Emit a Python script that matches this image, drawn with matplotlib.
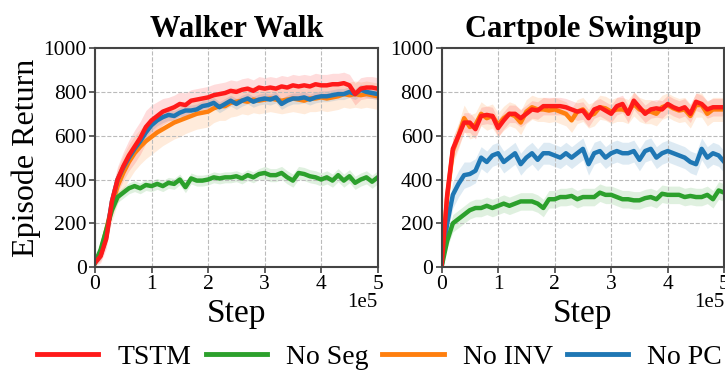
import numpy as np
import matplotlib
matplotlib.use("Agg")
import matplotlib.pyplot as plt

plt.rcParams['font.family'] = ['Liberation Serif', 'DejaVu Serif']

steps = np.arange(51) * 1e4

# Walker Walk
walker_tstm = [20, 50, 130, 300, 400, 460, 510, 550, 590, 640, 670, 690, 710, 720, 730, 745, 740, 760, 765, 770,
               775, 785, 790, 795, 805, 800, 810, 815, 805, 820, 815, 820, 815, 825, 820, 830, 825, 830, 825, 835,
               830, 830, 835, 835, 840, 830, 790, 815, 820, 820, 815]
walker_tstm_sd = [15, 30, 45, 55, 60, 65, 70, 75, 75, 75, 70, 65, 60, 55, 55, 55, 55, 50, 50, 50,
                  50, 50, 50, 50, 50, 50, 50, 50, 50, 50, 50, 50, 50, 50, 50, 50, 50, 50, 50, 50,
                  50, 50, 50, 50, 50, 50, 50, 50, 50, 50, 50]
walker_noseg = [20, 80, 170, 260, 320, 340, 360, 370, 360, 375, 370, 380, 370, 385, 380, 400, 365, 405, 395, 395,
                400, 410, 405, 410, 410, 415, 405, 420, 410, 425, 430, 420, 420, 430, 410, 395, 430, 425, 415, 410,
                400, 410, 395, 420, 395, 415, 385, 400, 410, 390, 410]
walker_noseg_sd = [10, 20, 25, 25, 25, 25, 25, 25, 25, 25, 25, 25, 25, 25, 25, 25, 25, 25, 25, 25,
                   25, 25, 25, 25, 25, 25, 25, 25, 25, 25, 30, 30, 30, 30, 30, 30, 30, 30, 30, 30,
                   30, 30, 30, 30, 30, 30, 30, 30, 30, 30, 30]
walker_noinv = [20, 70, 170, 280, 370, 430, 480, 520, 550, 575, 595, 615, 630, 645, 660, 670, 680, 690, 700, 705,
                710, 725, 735, 735, 750, 755, 760, 755, 765, 760, 765, 770, 765, 760, 765, 770, 765, 760, 770, 770,
                775, 770, 775, 780, 790, 785, 790, 785, 790, 785, 780]
walker_noinv_sd = [15, 40, 60, 70, 80, 80, 80, 80, 80, 80, 80, 80, 75, 75, 75, 75, 70, 70, 70, 70,
                   70, 65, 65, 65, 65, 65, 60, 60, 60, 60, 60, 60, 60, 60, 60, 60, 60, 60, 60, 60,
                   60, 60, 60, 60, 60, 60, 60, 60, 60, 60, 60]
walker_nopc = [20, 55, 140, 300, 400, 455, 500, 540, 575, 615, 648, 670, 685, 695, 690, 705, 715, 715, 720, 735,
               740, 750, 730, 745, 760, 745, 760, 770, 755, 765, 770, 765, 775, 745, 760, 770, 770, 775, 765, 775,
               780, 780, 785, 790, 790, 800, 790, 810, 800, 795, 790]
walker_nopc_sd = [10, 20, 25, 25, 25, 25, 25, 25, 25, 25, 25, 25, 25, 25, 25, 25, 25, 25, 25, 25,
                  25, 25, 25, 25, 25, 25, 25, 25, 25, 25, 25, 25, 25, 25, 25, 25, 25, 25, 25, 25,
                  25, 25, 25, 25, 25, 25, 25, 25, 25, 25, 25]

# Cartpole Swingup
cart_tstm = [0, 330, 540, 600, 660, 660, 630, 690, 695, 690, 635, 670, 700, 700, 680, 700, 720, 715, 735, 735,
             735, 735, 730, 720, 710, 715, 680, 720, 730, 715, 700, 735, 745, 700, 760, 730, 700, 720, 725, 720,
             745, 730, 720, 730, 700, 755, 745, 720, 730, 730, 730]
cart_tstm_sd = [0, 40, 50, 50, 45, 45, 45, 40, 40, 40, 40, 40, 40, 40, 40, 40, 40, 40, 40, 40,
                40, 40, 40, 40, 40, 40, 40, 40, 40, 40, 40, 40, 40, 40, 40, 40, 40, 40, 40, 40,
                40, 40, 40, 40, 40, 40, 40, 40, 40, 40, 40]
cart_noseg = [0, 120, 200, 220, 240, 260, 270, 270, 280, 270, 280, 290, 280, 290, 300, 300, 300, 290, 270, 310,
              310, 320, 320, 325, 310, 320, 320, 320, 340, 330, 330, 320, 310, 310, 305, 305, 315, 320, 310, 335,
              330, 330, 330, 320, 325, 320, 320, 330, 310, 350, 340]
cart_noseg_sd = [0, 30, 40, 40, 40, 40, 40, 40, 40, 40, 40, 40, 40, 40, 40, 40, 40, 40, 40, 40,
                 40, 40, 40, 40, 40, 40, 40, 40, 40, 40, 40, 40, 40, 40, 40, 40, 40, 40, 40, 40,
                 40, 40, 40, 40, 40, 40, 40, 40, 40, 40, 40]
cart_noinv = [0, 320, 530, 600, 680, 640, 650, 700, 680, 690, 650, 680, 700, 690, 660, 710, 730, 720, 720, 715,
              720, 710, 700, 670, 710, 720, 690, 700, 730, 725, 710, 720, 720, 710, 745, 720, 710, 710, 700, 730,
              740, 725, 715, 720, 690, 740, 740, 700, 720, 720, 720]
cart_noinv_sd = [0, 50, 60, 60, 60, 55, 55, 55, 55, 55, 55, 55, 55, 55, 55, 55, 55, 55, 55, 55,
                 55, 55, 55, 55, 55, 55, 55, 55, 55, 55, 55, 55, 55, 55, 55, 55, 55, 55, 55, 55,
                 55, 55, 55, 55, 55, 55, 55, 55, 55, 55, 55]
cart_nopc = [0, 200, 330, 380, 420, 425, 440, 500, 480, 510, 520, 480, 500, 520, 470, 500, 520, 490, 520, 520,
             510, 500, 520, 500, 520, 540, 470, 520, 530, 500, 520, 530, 520, 520, 530, 490, 530, 540, 500, 520,
             530, 520, 510, 500, 480, 470, 540, 500, 520, 510, 480]
cart_nopc_sd = [0, 50, 60, 60, 60, 55, 55, 50, 50, 50, 50, 50, 50, 50, 50, 50, 50, 50, 50, 50,
                50, 50, 50, 50, 50, 50, 50, 50, 50, 50, 50, 50, 50, 50, 50, 50, 50, 50, 50, 50,
                50, 50, 50, 50, 50, 50, 50, 50, 50, 50, 50]

labels = ["TSTM", "No Seg", "No INV", "No PC"]
colors = ["#ff1a1a", "#2ca02c", "#ff7f0e", "#1f77b4"]

tasks = [
    ("Walker Walk", [walker_tstm, walker_noseg, walker_noinv, walker_nopc],
     [walker_tstm_sd, walker_noseg_sd, walker_noinv_sd, walker_nopc_sd]),
    ("Cartpole Swingup", [cart_tstm, cart_noseg, cart_noinv, cart_nopc],
     [cart_tstm_sd, cart_noseg_sd, cart_noinv_sd, cart_nopc_sd]),
]

fig = plt.figure(figsize=(7.25, 3.7), dpi=100)
ax1 = fig.add_axes([0.131, 0.278, 0.390, 0.592])
ax2 = fig.add_axes([0.609, 0.278, 0.390, 0.592])

# draw order: no inv, no pc, no seg, tstm on top
order = [2, 3, 1, 0]
for ax, (title, means, sds) in zip([ax1, ax2], tasks):
    for i in order:
        m = np.array(means[i], dtype=float)
        s = np.array(sds[i], dtype=float)
        ax.fill_between(steps, m - s, m + s, color=colors[i], alpha=0.15, linewidth=0)
        ax.plot(steps, m, color=colors[i], lw=3.2)
    ax.set_xlim(0, 5e5)
    ax.set_ylim(0, 1000)
    ax.set_xticks(np.arange(0, 6) * 1e5)
    ax.set_xticklabels([str(k) for k in range(6)])
    ax.set_yticks([0, 200, 400, 600, 800, 1000])
    ax.tick_params(labelsize=15.5, length=4, width=1.2, color='#444444', pad=2)
    ax.grid(True, linestyle='--', color='#bbbbbb', lw=0.8)
    for sp in ax.spines.values():
        sp.set_color('#444444')
        sp.set_linewidth(1.5)
    ax.set_title(title, fontsize=22, fontweight='bold', pad=8)
    ax.set_xlabel("Step", fontsize=24, labelpad=3)
    # exponent marker sits lower than the tick labels, at the right end
    ax.text(1.0, -0.12, "1e5", transform=ax.transAxes, ha='right', va='top', fontsize=15)

ax1.set_ylabel("Episode Return", fontsize=23, labelpad=2)

leg_lines = [plt.Line2D([], [], color=c, lw=3.5) for c in colors]
fig.legend(leg_lines, labels, loc='center left', bbox_to_anchor=(0.036, 0.035),
           ncol=4, frameon=False, fontsize=20, handlelength=2.2,
           handletextpad=0.7, columnspacing=0.5, borderaxespad=0)

fig.savefig("out.png", dpi=100)
